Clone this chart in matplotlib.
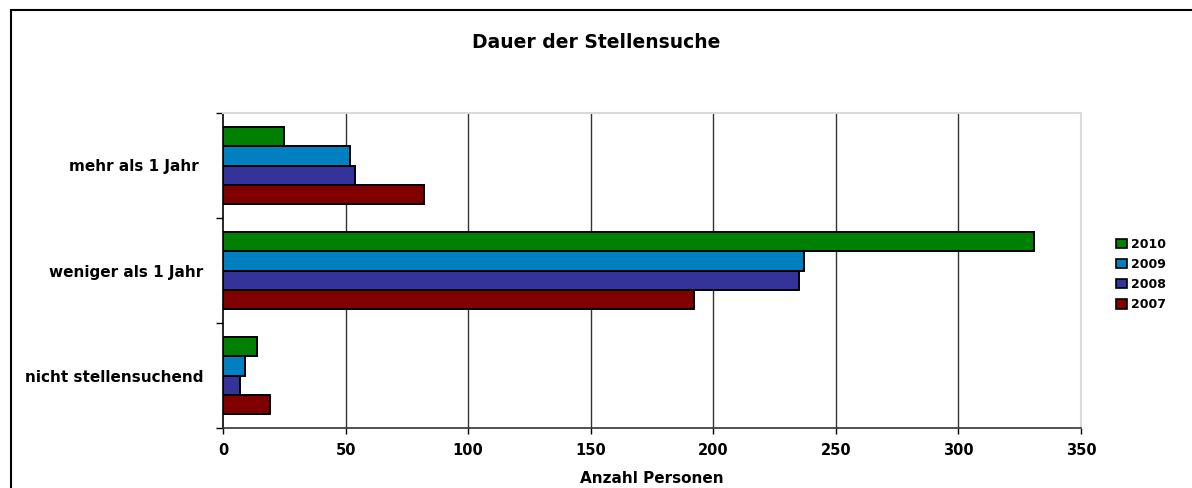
import matplotlib
matplotlib.use("Agg")
import matplotlib.pyplot as plt
from matplotlib.patches import Rectangle, Patch
import numpy as np

plt.rcParams['font.family'] = ['DejaVu Sans']
plt.rcParams['font.weight'] = 'bold'

categories = ["nicht stellensuchend", "weniger als 1 Jahr", "mehr als 1 Jahr "]
years = ["2007", "2008", "2009", "2010"]
v2007 = [19, 192, 82]
v2008 = [7, 235, 54]
v2009 = [9, 237, 52]
v2010 = [14, 331, 25]
series = [v2007, v2008, v2009, v2010]
colors = ["#800000", "#333399", "#0080C0", "#008000"]
xticks = [0, 50, 100, 150, 200, 250, 300, 350]

W, H = 1192, 488
fig = plt.figure(figsize=(W / 100, H / 100), dpi=100)

# outer chart border (clipped at right / bottom)
fig.patches.append(Rectangle((11 / W, -0.1), 1.2, 1 - 10 / H + 0.1,
                             transform=fig.transFigure, fill=False,
                             edgecolor='black', linewidth=1.5))

ax = fig.add_axes([223 / W, (H - 428) / H, (1081 - 223) / W, (428 - 113) / H])

y = np.arange(len(categories))
h = 0.181
for i, (vals, c, yr) in enumerate(zip(series, colors, years)):
    ax.barh(y + (i - 1.5) * h, vals, height=h, color=c, edgecolor='black',
            linewidth=1.4, label=yr, zorder=3)

ax.set_xlim(0, 350)
ax.set_ylim(-0.5, 2.5)
ax.set_xticks(xticks)
ax.set_xticklabels([str(t) for t in xticks], fontsize=10.5, fontweight='bold')
for t in xticks[1:-1]:
    ax.axvline(t, color='#333333', linewidth=1.0, zorder=1)

ax.set_yticks([-0.5, 0.5, 1.5, 2.5])
ax.set_yticklabels([])
ax.set_yticks(y, minor=True)
ax.set_yticklabels(categories, minor=True, fontsize=11, fontweight='bold')
ax.tick_params(axis='y', which='major', length=5, width=1, direction='out')
ax.tick_params(axis='y', which='minor', length=0, pad=14)
ax.tick_params(axis='x', length=4, width=1, direction='out', pad=7)

ax.spines['left'].set_color('black')
ax.spines['left'].set_linewidth(1.2)
ax.spines['bottom'].set_color('#333333')
ax.spines['bottom'].set_linewidth(1.2)
ax.spines['top'].set_color('#d9d9d9')
ax.spines['right'].set_color('#d9d9d9')
ax.spines['top'].set_linewidth(1.5)
ax.spines['right'].set_linewidth(1.5)

ax.set_xlabel("Anzahl Personen", fontsize=11, fontweight='bold', labelpad=9)
fig.text(596 / W, 1 - 42 / H, "Dauer der Stellensuche", ha='center', va='center',
         fontsize=13.5, fontweight='bold')

handles = [Patch(facecolor=c, edgecolor='black', linewidth=1.2) for c in colors][::-1]
leg = fig.legend(handles, years[::-1], loc='center left',
                 bbox_to_anchor=(1110 / W, 1 - 274.5 / H), frameon=False,
                 fontsize=9, handlelength=0.85, handleheight=0.75,
                 handletextpad=0.3, labelspacing=0.58, borderpad=0)
for t in leg.get_texts():
    t.set_fontweight('bold')

fig.savefig("out.png", dpi=100)
